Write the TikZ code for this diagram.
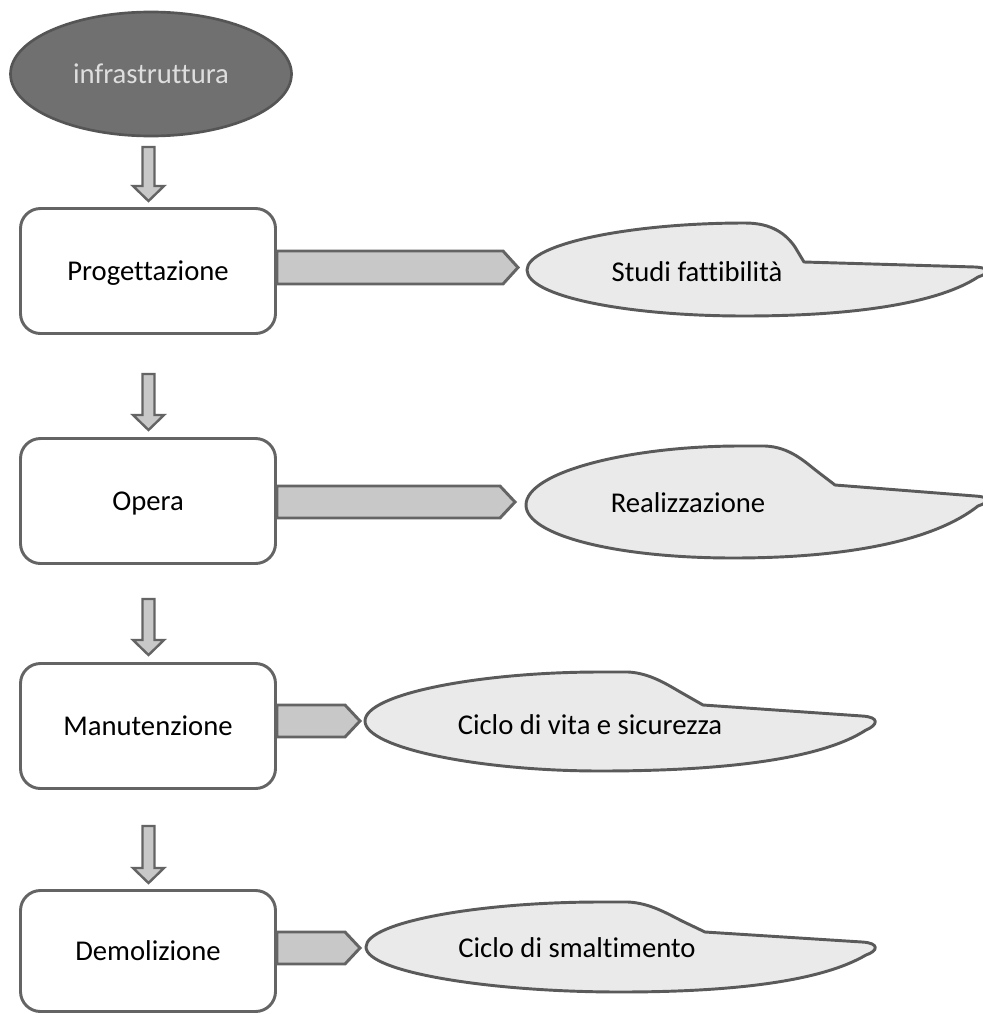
\documentclass[tikz,border=0pt]{standalone}
\usepackage{fontspec}
\setmainfont[Ligatures={NoCommon,NoContextual}]{Carlito}
\usetikzlibrary{shapes.geometric}
\definecolor{edgegray}{RGB}{100,100,100}
\definecolor{darkfill}{RGB}{112,112,112}
\definecolor{darkedge}{RGB}{85,85,85}
\definecolor{lighttext}{RGB}{222,222,222}
\definecolor{arrowfill}{RGB}{200,200,200}
\definecolor{blobfill}{RGB}{234,234,234}
\definecolor{blobedge}{RGB}{90,90,90}
\newcommand{\downblk}[3]{%
  \draw[darr] (#1-6,#2) -- (#1+6,#2) -- (#1+6,#3-15) -- (#1+15.5,#3-15) -- (#1,#3) -- (#1-15.5,#3-15) -- (#1-6,#3-15) -- cycle;}
\begin{document}
\begin{tikzpicture}[x=0.75pt,y=-0.75pt,
  txt/.style={font=\fontsize{21.5}{26}\selectfont, text=black, inner sep=0pt,
    text height=15pt, text depth=1.2pt},
  stepbox/.style={draw=edgegray, line width=2.2pt, fill=white, rounded corners=15pt,
    minimum width=255*0.75pt, minimum height=125*0.75pt, txt},
  topell/.style={ellipse, draw=darkedge, line width=2pt, fill=darkfill,
    minimum width=281*0.75pt, minimum height=124*0.75pt, inner sep=0pt,
    font=\fontsize{21.5}{26}\selectfont, text=lighttext,
    text height=15pt, text depth=1.2pt},
  darr/.style={draw=edgegray, line width=1.8pt, fill=arrowfill, line join=miter},
  rarr/.style={draw=edgegray, line width=2.2pt, fill=arrowfill, line join=miter},
  blobst/.style={draw=blobedge, line width=2.2pt, fill=blobfill, line join=round}]
\useasboundingbox (0,0) rectangle (982,1014);
\fill[white] (0,0) rectangle (982,1014);

% top ellipse
\node[topell] (infra) at (151,74) {infrastruttura};

% side block arrows
\draw[rarr] (277,251) -- (503,251) -- (518,267.5) -- (503,284) -- (277,284) -- cycle;
\draw[rarr] (277,486) -- (500,486) -- (515,502) -- (500,518) -- (277,518) -- cycle;
\draw[rarr] (277,705) -- (345,705) -- (360,721) -- (345,737) -- (277,737) -- cycle;
\draw[rarr] (277,932) -- (345,932) -- (360,948) -- (345,964) -- (277,964) -- cycle;

% boxes
\node[stepbox] (b1) at (148,271) {Progettazione};
\node[stepbox] (b2) at (148,501) {Opera};
\node[stepbox] (b3) at (148,726) {Manutenzione};
\node[stepbox, minimum height=121*0.75pt] (b4) at (148,951) {Demolizione};

% down arrows
\downblk{148.5}{147}{201}
\downblk{148.5}{374}{430}
\downblk{148.5}{599}{655}
\downblk{148.5}{826}{883}

% blobs
\draw[blobst] (527,270) .. controls (527,244) and (630,223) .. (745,223)
  .. controls (772,223) and (786,234) .. (795,247) -- (804,262) -- (975,267)
  .. controls (992,268) and (990,273) .. (978,277)
  .. controls (940,302) and (860,316) .. (744,316)
  .. controls (625,316) and (527,296) .. (527,270) -- cycle;
\node[txt] (s1) at (697,272) {Studi fattibilità};

\draw[blobst] (526,505) .. controls (526,472) and (630,446) .. (740,446) -- (765,446)
  .. controls (790,447) and (805,462) .. (818,472) -- (835,485) -- (975,496)
  .. controls (992,497) and (990,502) .. (978,506)
  .. controls (935,540) and (850,558) .. (733,558)
  .. controls (615,558) and (526,535) .. (526,505) -- cycle;
\node[txt] (s2) at (688,503) {Realizzazione};

\draw[blobst] (365,721) .. controls (365,694) and (480,672) .. (600,672) -- (628,672)
  .. controls (650,673) and (668,685) .. (682,693) -- (703,705) -- (862,716)
  .. controls (880,717) and (878,725) .. (866,730)
  .. controls (820,760) and (720,771) .. (600,771)
  .. controls (480,771) and (365,748) .. (365,721) -- cycle;
\node[txt] (s3) at (590,725) {Ciclo di vita e sicurezza};

\draw[blobst] (366,947) .. controls (366,922) and (480,902) .. (600,902) -- (628,902)
  .. controls (650,903) and (668,914) .. (682,921) -- (705,932) -- (862,942)
  .. controls (880,943) and (878,951) .. (866,955)
  .. controls (820,982) and (730,992) .. (620,992)
  .. controls (490,992) and (366,972) .. (366,947) -- cycle;
\node[txt] (s4) at (577,948) {Ciclo di smaltimento};
\end{tikzpicture}
\end{document}
